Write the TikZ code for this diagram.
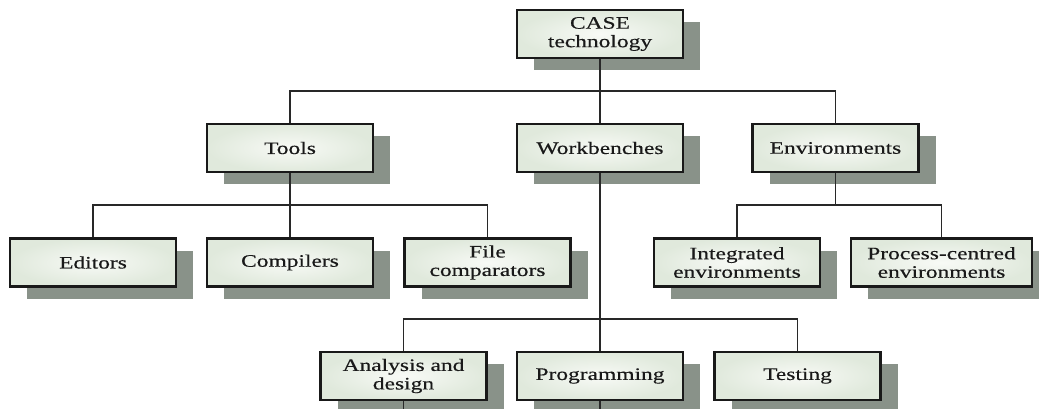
\documentclass[tikz,border=0pt]{standalone}
\usepackage{fontspec}
\setmainfont{Liberation Serif}[FakeStretch=1.34,FakeBold=0.35]
\usetikzlibrary{shadows}
\definecolor{shadowgray}{RGB}{137,146,137}
\definecolor{boxout}{RGB}{224,233,220}
\definecolor{boxin}{RGB}{248,250,246}
\definecolor{linegray}{RGB}{40,40,40}
\definecolor{textgray}{RGB}{25,25,25}
\tikzset{
  boxnode/.style={rectangle, draw=black!90, line width=2.6pt,
    minimum width=166pt, minimum height=48pt, inner sep=0pt,
    inner color=boxin, outer color=boxout,
    align=center, text=textgray,
    font=\fontsize{17.5}{18.5}\selectfont,
    general shadow={shadow xshift=17pt, shadow yshift=-12pt, fill=shadowgray, draw=none}},
  conn/.style={draw=linegray, line width=1.2pt}
}
\begin{document}
\begin{tikzpicture}[x=1pt,y=-1pt]
\useasboundingbox (0,0) rectangle (1039,409);
\fill[white] (0,0) rectangle (1039,409);
% top
\node[boxnode] (case) at (600,34) {CASE\\technology};
% level 1
\node[boxnode] (tools) at (290,148) {Tools};
\node[boxnode] (work) at (600,148) {Workbenches};
\node[boxnode] (env) at (835.5,148) {Environments};
% level 2
\node[boxnode] (editors) at (93,262.5) {Editors};
\node[boxnode] (comp) at (290,262.5) {Compilers};
\node[boxnode] (file) at (487.5,262.5) {File\\comparators};
\node[boxnode] (integ) at (737,262.5) {Integrated\\environments};
\node[boxnode, minimum width=181pt] (proc) at (941.5,262.5) {Process-centred\\environments};
% level 3
\node[boxnode] (anal) at (403.5,376) {Analysis and\\design};
\node[boxnode] (prog) at (600,376) {Programming};
\node[boxnode] (test) at (797.5,376) {Testing};
% junctions
\coordinate (j1) at (600,91);
\coordinate (j2) at (290,205);
\coordinate (j3) at (835.5,205);
\coordinate (j4) at (600,319);
\coordinate (bot) at (0,409);
% connectors
\draw[conn] (case.south) -- (work.north);
\draw[conn] (tools.north) |- (j1) -| (env.north);
\draw[conn] (tools.south) -- (comp.north);
\draw[conn] (editors.north) |- (j2) -| (file.north);
\draw[conn] (env.south) -- (j3);
\draw[conn] (integ.north) |- (j3) -| (proc.north);
\draw[conn] (work.south) -- (prog.north);
\draw[conn] (anal.north) |- (j4) -| (test.north);
\draw[conn] (anal.south) -- (anal.south |- bot);
\draw[conn] (prog.south) -- (prog.south |- bot);
\end{tikzpicture}
\end{document}
